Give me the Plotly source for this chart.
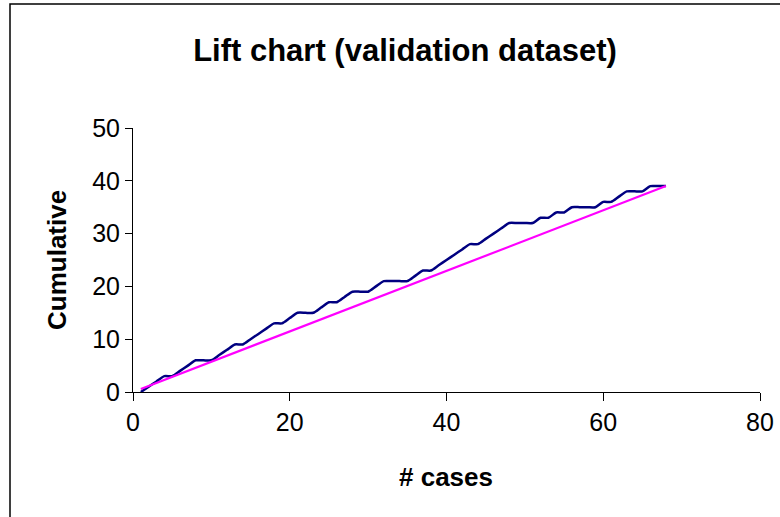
import plotly.graph_objects as go

# Data
cases = list(range(1, 69))
cumulative = [0, 1, 2, 3, 3, 4, 5, 6, 6, 6,
              7, 8, 9, 9, 10, 11, 12, 13, 13, 14,
              15, 15, 15, 16, 17, 17, 18, 19, 19, 19,
              20, 21, 21, 21, 21, 22, 23, 23, 24, 25,
              26, 27, 28, 28, 29, 30, 31, 32, 32, 32,
              32, 33, 33, 34, 34, 35, 35, 35, 35, 36,
              36, 37, 38, 38, 38, 39, 39, 39]
baseline_cases = [1, 68]
baseline_values = [0.57, 39]

x_ticks = [0, 20, 40, 60, 80]
y_ticks = [0, 10, 20, 30, 40, 50]

FONT = "Liberation Sans, Arial, sans-serif"

fig = go.Figure()
fig.add_trace(go.Scatter(x=cases, y=cumulative, mode="lines",
                         line=dict(color="#000080", width=2.5, shape="spline", smoothing=0.6),
                         showlegend=False))
fig.add_trace(go.Scatter(x=baseline_cases, y=baseline_values, mode="lines",
                         line=dict(color="#FF00FF", width=2.2),
                         showlegend=False))

L, R, T, B = 133, 20, 128, 125
W, H = 780, 517
pw = W - L - R
ph = H - T - B

def px(x):
    return (x - L) / pw

def py(y):
    return (H - B - y) / ph

fig.update_layout(
    width=W, height=H,
    margin=dict(l=L, r=R, t=T, b=B, pad=0, autoexpand=False),
    paper_bgcolor="white", plot_bgcolor="white",
    font=dict(family=FONT, color="black"),
    title=dict(text="<b>Lift chart (validation dataset)</b>",
               x=px(405), xref="paper", xanchor="center",
               y=1 - 50 / H, yref="container", yanchor="middle",
               font=dict(size=31, family=FONT, color="black")),
    xaxis=dict(range=[0, 80], tickvals=x_ticks, ticks="outside", ticklen=8,
               tickcolor="black", showline=True, linecolor="black", linewidth=1,
               showgrid=False, zeroline=False, automargin=False,
               tickfont=dict(size=25, family=FONT)),
    yaxis=dict(range=[0, 50], tickvals=y_ticks, ticks="outside", ticklen=7,
               tickcolor="black", showline=True, linecolor="black", linewidth=1,
               showgrid=False, zeroline=False, automargin=False,
               tickfont=dict(size=25, family=FONT)),
    annotations=[
        dict(text="<b># cases</b>", xref="paper", yref="paper",
             x=px(446), y=py(477), xanchor="center", yanchor="middle",
             showarrow=False, font=dict(size=26, family=FONT, color="black")),
        dict(text="<b>Cumulative</b>", xref="paper", yref="paper",
             x=px(57), y=py(260), xanchor="center", yanchor="middle", textangle=-90,
             showarrow=False, font=dict(size=26, family=FONT, color="black")),
    ],
    shapes=[dict(type="rect", xref="paper", yref="paper",
                 x0=px(10), x1=px(810), y0=py(530), y1=py(4),
                 line=dict(color="black", width=1.5), fillcolor="rgba(0,0,0,0)", layer="below")],
)

fig.write_html("out.html", config={"displayModeBar": False},
               post_script="document.body.style.margin='0px';")
